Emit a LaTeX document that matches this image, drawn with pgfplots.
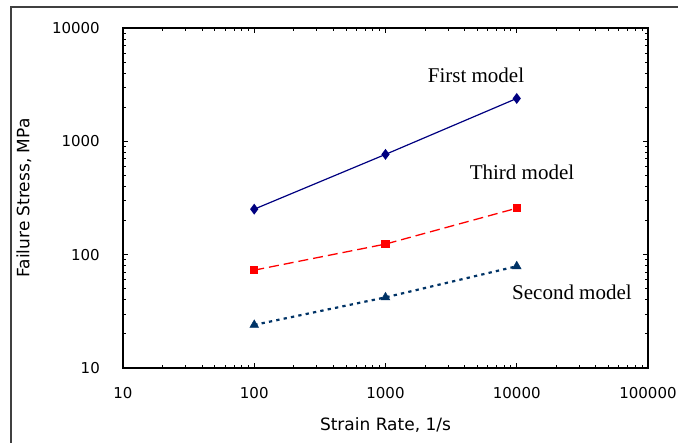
\documentclass[border=0pt]{standalone}
\usepackage{pgfplots}
\pgfplotsset{compat=1.18}
\usepackage{fontspec}
\setmainfont{Liberation Serif}
\newfontfamily\sansf{DejaVu Sans}
\definecolor{navyA}{RGB}{0,0,128}
\definecolor{navyB}{RGB}{0,51,102}
\definecolor{redA}{RGB}{255,0,0}
\begin{document}
\begin{tikzpicture}[x=1pt,y=1pt]
\path[use as bounding box] (-123,-75) rectangle (555,368);
\draw[line width=2pt, black!75] (-111.5,-90) -- (-111.5,360.5) -- (570,360.5);
\begin{axis}[
  at={(0,0)}, anchor=south west,
  scale only axis, width=525pt, height=340pt,
  xmode=log, ymode=log,
  xmin=10, xmax=100000, ymin=10, ymax=10000,
  xtick={10,100,1000,10000,100000},
  xticklabels={10,100,1000,10000,100000},
  ytick={10,100,1000,10000},
  yticklabels={10,100,1000,10000},
  minor tick num=0,
  minor xtick={}, minor ytick={},
  tick align=inside,
  major tick length=5pt,
  axis line style={line width=1.2pt},
  every tick/.style={black, line width=0.8pt},
  xticklabel style={font=\sansf\fontsize{15}{15}\selectfont, anchor=center, yshift=-25pt, inner sep=0pt},
  yticklabel style={font=\sansf\fontsize{15}{15}\selectfont, anchor=east, xshift=-23pt, inner sep=0pt},
  xlabel={Strain Rate, 1/s},
  ylabel={Failure Stress, MPa},
  xlabel style={font=\sansf\fontsize{17}{17}\selectfont, at={(axis description cs:0.5,-0.16765)}, anchor=center, inner sep=0pt},
  ylabel style={font=\sansf\fontsize{17}{17}\selectfont, at={(axis description cs:-0.18857,0.5)}, anchor=center, inner sep=0pt},
  clip=false,
]
\addplot[color=navyA, line width=1.2pt, mark=diamond*, mark size=4.5pt, mark options={solid, fill=navyA}]
  coordinates {(100,252) (1000,767) (10000,2390)};
\addplot[color=redA, line width=1.3pt, dash pattern=on 10pt off 5pt, mark=square*, mark size=3.5pt, mark options={solid, fill=redA}]
  coordinates {(100,73) (1000,124) (10000,257)};
\addplot[color=navyB, line width=2.2pt, dash pattern=on 3.3pt off 4.2pt, mark=triangle*, mark size=5pt, mark options={solid, fill=navyB, line width=0.5pt}]
  coordinates {(100,24) (1000,42) (10000,79)};
\node[font=\fontsize{21}{21}\selectfont, anchor=center] at (axis description cs:0.6724,0.8618) {First model};
\node[font=\fontsize{21}{21}\selectfont, anchor=center] at (axis description cs:0.76,0.5765) {Third model};
\node[font=\fontsize{21}{21}\selectfont, anchor=center] at (axis description cs:0.8552,0.2235) {Second model};
\end{axis}
\end{tikzpicture}
\end{document}
